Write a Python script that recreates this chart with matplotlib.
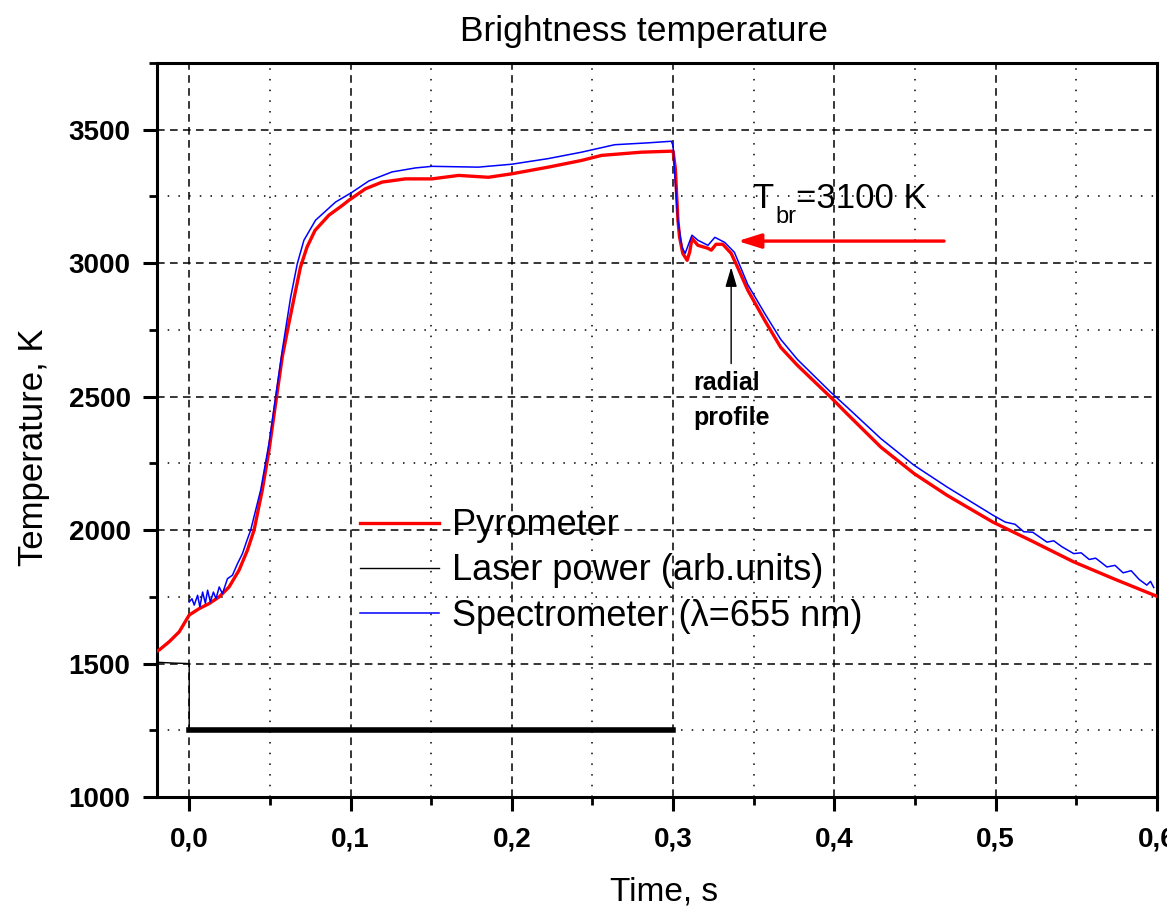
import numpy as np
import matplotlib
matplotlib.use("Agg")
import matplotlib.pyplot as plt
from matplotlib.ticker import MultipleLocator, FuncFormatter

plt.rcParams['font.family'] = ['Liberation Sans', 'DejaVu Sans']
plt.rcParams['mathtext.default'] = 'regular'

# ---------------------------------------------------------------------------
# Data (time in s, temperature in K)
# ---------------------------------------------------------------------------

pyro_t = [-0.02, -0.0186, -0.0124, -0.0062, 0.0, 0.0062, 0.0124, 0.0186, 0.0247,
          0.0309, 0.0361, 0.0402, 0.0453, 0.0495, 0.0536, 0.0577, 0.0618, 0.066,
          0.069, 0.073, 0.078, 0.0866, 0.0948, 0.099, 0.1093, 0.1196, 0.134,
          0.1505, 0.167, 0.1855, 0.2, 0.2226, 0.2432, 0.2556, 0.2803, 0.300,
          0.3014, 0.303, 0.304, 0.306, 0.3087, 0.3103, 0.3117, 0.3154, 0.3216,
          0.3237, 0.3266, 0.3308, 0.336, 0.340, 0.3463, 0.3568, 0.3667, 0.377,
          0.3977, 0.408, 0.4288, 0.4494, 0.47, 0.4983, 0.5215, 0.5484, 0.5731, 0.6]
pyro_T = [1547, 1551, 1582, 1619, 1682, 1706, 1725, 1750, 1787,
          1850, 1925, 2000, 2150, 2300, 2476, 2649, 2775, 2899,
          2986, 3060, 3123, 3180, 3216, 3236, 3279, 3304, 3316,
          3316, 3329, 3322, 3335, 3360, 3385, 3404, 3416, 3420,
          3354, 3161, 3098, 3037, 3011, 3042, 3093, 3067, 3056,
          3049, 3071, 3071, 3037, 2985, 2899, 2786, 2685, 2618,
          2498, 2435, 2311, 2212, 2130, 2030, 1962, 1881, 1818, 1752]

spec_t = [0.0, 0.0017, 0.0031, 0.0052, 0.0066, 0.0083, 0.01, 0.0114, 0.0131,
          0.015, 0.0166, 0.0186, 0.0206, 0.0237, 0.0268, 0.0299, 0.033, 0.0357,
          0.0381, 0.0443, 0.0495, 0.0536, 0.0577, 0.0629, 0.067, 0.0711, 0.0783,
          0.0907, 0.101, 0.1113, 0.1257, 0.1402, 0.1505, 0.1793, 0.2, 0.2226,
          0.2432, 0.2638, 0.2845, 0.2989, 0.3, 0.3014, 0.303, 0.3055, 0.3075,
          0.3095, 0.3117, 0.3154, 0.3216, 0.3259, 0.332, 0.338, 0.3463, 0.3568,
          0.3667, 0.377, 0.3977, 0.408, 0.4288, 0.4494, 0.47, 0.4983, 0.506,
          0.512, 0.5174, 0.523, 0.5318, 0.536, 0.541, 0.5484, 0.553, 0.558,
          0.562, 0.569, 0.574, 0.579, 0.584, 0.589, 0.5937, 0.596, 0.598]
spec_T = [1731, 1743, 1719, 1756, 1712, 1768, 1726, 1775, 1731,
          1768, 1743, 1787, 1762, 1818, 1831, 1874, 1912, 1960,
          2000, 2150, 2326, 2500, 2674, 2873, 2998, 3086, 3161,
          3229, 3266, 3308, 3342, 3357, 3363, 3360, 3371, 3392,
          3416, 3444, 3451, 3457, 3440, 3300, 3161, 3060, 3037,
          3070, 3105, 3086, 3067, 3097, 3078, 3041, 2920, 2812,
          2715, 2640, 2517, 2460, 2343, 2243, 2161, 2056, 2030,
          2022, 1994, 1992, 1955, 1960, 1938, 1912, 1915, 1890,
          1895, 1862, 1868, 1840, 1848, 1815, 1794, 1808, 1785]

laser_t = [-0.02, -0.01, 0.0, 0.0, 0.3]
laser_T = [1505, 1502, 1500, 1250, 1250]

XTICKS = [0.0, 0.1, 0.2, 0.3, 0.4, 0.5, 0.6]
YTICKS = [1000, 1500, 2000, 2500, 3000, 3500]

# ---------------------------------------------------------------------------
# Figure
# ---------------------------------------------------------------------------

fig = plt.figure(figsize=(11.67, 9.11), dpi=100)
ax = fig.add_axes([0.1345, 0.1251, 0.8569, 0.8057])

ax.plot(laser_t[:4], laser_T[:4], color="black", lw=1.0, zorder=3)
ax.plot(laser_t[3:], laser_T[3:], color="black", lw=4.0, zorder=3)
h_pyro, = ax.plot(pyro_t, pyro_T, color="#ff0000", lw=2.4, zorder=4)
h_spec, = ax.plot(spec_t, spec_T, color="#0000ff", lw=1.1, zorder=5)
h_laser, = ax.plot([], [], color="black", lw=1.0)

ax.set_xlim(-0.02, 0.6)
ax.set_ylim(1000, 3750)
ax.set_xticks(XTICKS)
ax.set_yticks(YTICKS)
ax.xaxis.set_minor_locator(MultipleLocator(0.05))
ax.yaxis.set_minor_locator(MultipleLocator(250))
ax.xaxis.set_major_formatter(FuncFormatter(lambda v, p: f"{v:.1f}".replace(".", ",")))

ax.grid(which="major", color="black", lw=1.1, dashes=(5, 3.5))
ax.grid(which="minor", color="black", lw=1.1, dashes=(1, 6))
ax.set_axisbelow(True)

for s in ax.spines.values():
    s.set_linewidth(2.2)
ax.tick_params(which="major", direction="out", length=10, width=2.2,
               labelsize=20, top=False, right=False)
ax.tick_params(which="minor", direction="out", length=6, width=2.0,
               top=False, right=False)
ax.tick_params(axis="y", which="major", pad=9)
ax.tick_params(axis="x", which="major", pad=11)
for lab in ax.get_xticklabels() + ax.get_yticklabels():
    lab.set_fontweight("bold")

ax.set_title("Brightness temperature", fontsize=25.5, x=0.4875, pad=16)
ax.set_xlabel("Time, s", fontsize=24)
ax.set_ylabel("Temperature, K", fontsize=25)
ax.xaxis.set_label_coords(0.507, -0.108)
ax.yaxis.set_label_coords(-0.107, 0.477)

ax.legend([h_pyro, h_laser, h_spec],
          ["Pyrometer", "Laser power (arb.units)", "Spectrometer (λ=655 nm)"],
          loc="center left", bbox_to_anchor=(0.203, 0.308), frameon=False,
          fontsize=26, handlelength=2.2, handletextpad=0.35, labelspacing=0.28,
          borderpad=0, borderaxespad=0)

# annotations
ax.annotate("", xy=(0.3401, 3083), xytext=(0.468, 3083),
            arrowprops=dict(arrowstyle="-|>,head_length=0.7,head_width=0.22",
                            color="#ff0000", lw=2.4, mutation_scale=20,
                            shrinkA=0, shrinkB=0), zorder=6)
ax.text(0.349, 3206, "T", fontsize=25, va="baseline", ha="left")
ax.text(0.3635, 3152, "br", fontsize=17, va="baseline", ha="left")
ax.text(0.3765, 3206, "=3100 K", fontsize=25, va="baseline", ha="left")

ax.annotate("", xy=(0.336, 2985), xytext=(0.336, 2624),
            arrowprops=dict(arrowstyle="-|>,head_length=0.85,head_width=0.25",
                            color="black", lw=1.0, mutation_scale=14,
                            shrinkA=0, shrinkB=0), zorder=6)
ax.text(0.3123, 2524, "radial", fontsize=18, fontweight="bold", va="baseline")
ax.text(0.3123, 2393, "profile", fontsize=18, fontweight="bold", va="baseline")

fig.savefig("out.png", dpi=100)
